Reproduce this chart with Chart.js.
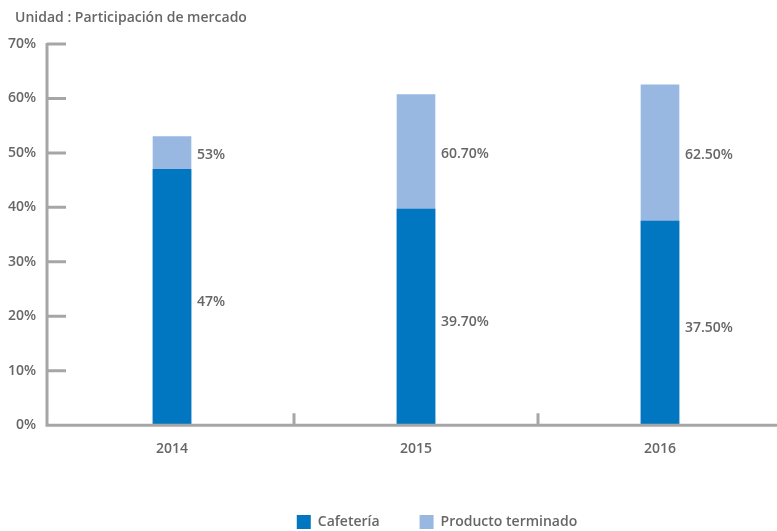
<!DOCTYPE html>
<html>
<head>
<meta charset="utf-8">
<script src="https://cdn.jsdelivr.net/npm/chart.js@4/dist/chart.umd.min.js"></script>
<style>
	html, body { margin: 0; padding: 0; background: #fff; overflow: hidden; }
	#wrap { position: relative; width: 777px; height: 531px; overflow: hidden; }
	#title { position: absolute; left: 15px; top: 7px; font: 600 14px "Open Sans", sans-serif; color: #666; }
	#box { position: absolute; left: 0; top: 0; width: 874px; height: 531px; }
</style>
</head>
<body>
<div id="wrap">
	<div id="box"><canvas id="marketChart"></canvas></div>
	<div id="title">Unidad : Participación de mercado</div>
</div>
<script>
	let years = ['2014', '2015', '2016'];
	let cafeteria = [47, 39.7, 37.5];
	let productoTerminado = [53, 60.7, 62.5];
	let cafeteriaLabels = ['47%', '39.70%', '37.50%'];
	let productoLabels = ['53%', '60.70%', '62.50%'];
	let yTicks = [0, 10, 20, 30, 40, 50, 60, 70];

	let grey = '#a6a6a6';
	let textColor = '#666';
	let font = { family: '"Open Sans", sans-serif', size: 14, weight: '600' };

	// axis lines, ticks and bar labels
	let axisPlugin = {
		id: 'axisPlugin',
		afterLayout: function (chart) {
			// legend sits centred under the whole picture, not the padded box
			chart.legend.left += 46;
			chart.legend.right += 46;
			chart.legend.top += 3;
			chart.legend.bottom += 3;
		},
		afterDatasetsDraw: function (chart) {
			let ctx = chart.ctx;
			let x = chart.scales.x, y = chart.scales.y;
			let axisX = chart.chartArea.left - 3;
			ctx.save();
			ctx.strokeStyle = grey;
			ctx.lineWidth = 3;
			ctx.beginPath();
			ctx.moveTo(axisX, y.getPixelForValue(70) - 1);
			ctx.lineTo(axisX, y.getPixelForValue(0));
			ctx.lineTo(777, y.getPixelForValue(0));
			yTicks.forEach(function (t) {
				if (t === 0) return;
				let py = y.getPixelForValue(t);
				ctx.moveTo(axisX, py);
				ctx.lineTo(axisX + 19, py);
			});
			for (let i = 1; i < years.length; i++) {
				let px = (x.getPixelForValue(i - 1) + x.getPixelForValue(i)) / 2;
				ctx.moveTo(px, y.getPixelForValue(0));
				ctx.lineTo(px, y.getPixelForValue(0) - 12);
			}
			ctx.stroke();

			let dark = chart.getDatasetMeta(0).data;
			let light = chart.getDatasetMeta(1).data;
			ctx.fillStyle = textColor;
			ctx.font = font.weight + ' ' + font.size + 'px ' + font.family;
			ctx.textBaseline = 'middle';
			ctx.textAlign = 'left';
			for (let i = 0; i < years.length; i++) {
				let d = dark[i], l = light[i];
				let lx = d.x + d.width / 2 + 6;
				ctx.fillText(cafeteriaLabels[i], lx, (d.y + d.base) / 2 + 5);
				ctx.fillText(productoLabels[i], lx, (l.y + d.y) / 2 + 2);
			}
			ctx.restore();
		}
	};

	let chart = new Chart('marketChart', {
		type: 'bar',
		data: {
			labels: years,
			datasets: [{
				label: 'Cafetería',
				data: cafeteria,
				backgroundColor: '#0077c0',
				barThickness: 38
			}, {
				label: 'Producto terminado',
				data: productoTerminado,
				backgroundColor: '#98b8e2',
				barThickness: 38
			}]
		},
		plugins: [axisPlugin],
		options: {
			responsive: true,
			maintainAspectRatio: false,
			animation: false,
			layout: { padding: { top: 44, right: 92, left: 0, bottom: -5 } },
			plugins: {
				legend: {
					position: 'bottom',
					labels: {
						boxWidth: 14,
						boxHeight: 14,
						padding: 40,
						color: textColor,
						font: { family: font.family, size: 14, weight: '600' }
					}
				},
				tooltip: { enabled: false }
			},
			scales: {
				x: {
					stacked: true,
					offset: true,
					grid: { display: false, drawTicks: false },
					border: { display: false },
					ticks: { color: textColor, font: font, padding: 15 }
				},
				y: {
					stacked: false,
					min: 0,
					max: 70,
					afterFit: function (scale) { scale.width = 50; },
					grid: { display: false, drawTicks: false },
					border: { display: false },
					ticks: {
						stepSize: 10,
						padding: 14,
						color: textColor,
						font: font,
						callback: function (v) { return v + '%'; }
					}
				}
			}
		}
	});
</script>
</body>
</html>
